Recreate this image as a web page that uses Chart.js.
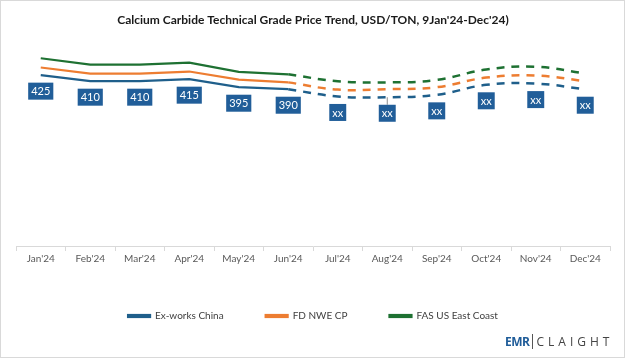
<!DOCTYPE html>
<html>
<head>
<meta charset="utf-8">
<script src="https://cdn.jsdelivr.net/npm/chart.js@4.4.1/dist/chart.umd.min.js"></script>
<style>
  body { margin: 0; background: #fff; }
  #wrap { position: relative; width: 623px; height: 356px; border: 1px solid #d9d9d9; }
  #logo { position: absolute; left: 504px; top: 328px; font-family: "Open Sans", sans-serif; white-space: nowrap; }
  #logo .emr { color: #1f5c99; font-weight: bold; font-size: 12px; letter-spacing: -0.5px; }
  #logo .bar { display: inline-block; width: 1px; height: 15px; background: #555; margin: 0 3px; vertical-align: -3px; }
  #logo .cl { color: #444; font-size: 12px; letter-spacing: 4px; }
</style>
</head>
<body>
<div id="wrap">
  <canvas id="graficoPrecio" width="623" height="356"></canvas>
  <div id="logo"><span class="emr">EMR</span><span class="bar"></span><span class="cl">CLAIGHT</span></div>
</div>
<script>
const meses = ["Jan'24", "Feb'24", "Mar'24", "Apr'24", "May'24", "Jun'24", "Jul'24", "Aug'24", "Sep'24", "Oct'24", "Nov'24", "Dec'24"];
const exWorksChina = [425, 410, 410, 415, 395, 390, 372, 370, 376, 401, 404, 390];
const fdNweCp = [444, 429, 429, 434, 414, 407, 389, 390, 395, 419, 424, 410];
const fasUsEastCoast = [467, 451, 451, 456, 433, 427, 410, 407, 413, 439, 446, 429];
const etiquetas = ["425", "410", "410", "415", "395", "390", "xx", "xx", "xx", "xx", "xx", "xx"];
const ultimoReal = 5; // Jun'24, after this the lines are dashed (forecast)

const azul = "#1f5f8b";
const naranja = "#ed7d31";
const verde = "#1e7132";

// split each series in a solid part and a dashed part
const solido = (arr) => arr.map((v, i) => (i <= ultimoReal ? v : null));
const punteado = (arr) => arr.map((v, i) => (i >= ultimoReal ? v : null));

const serie = (label, data, color, dashed) => ({
  label: label,
  data: dashed ? punteado(data) : solido(data),
  borderColor: color,
  backgroundColor: color,
  borderWidth: dashed ? 2.5 : 2.2,
  borderDash: dashed ? [8, 7] : [],
  tension: dashed ? 0.4 : 0,
  pointRadius: 0,
  fill: false,
});

//cajas con los valores debajo de la linea azul
const etiquetasPlugin = {
  id: "etiquetas",
  afterDatasetsDraw(chart) {
    const ctx = chart.ctx;
    const x = chart.scales.x;
    const y = chart.scales.y;
    ctx.save();
    ctx.font = "11px Lato";
    ctx.textAlign = "center";
    ctx.textBaseline = "middle";
    etiquetas.forEach((txt, i) => {
      const px = x.getPixelForValue(i);
      const py = y.getPixelForValue(exWorksChina[i]);
      const cy = py + 16;
      const w = ctx.measureText(txt).width + 6;
      const h = 17;
      if (i === 7) {
        ctx.strokeStyle = "#8c8c8c";
        ctx.lineWidth = 1;
        ctx.beginPath();
        ctx.moveTo(px, py);
        ctx.lineTo(px, cy - h / 2);
        ctx.stroke();
      }
      ctx.fillStyle = "#215e99";
      ctx.fillRect(px - w / 2, cy - h / 2, w, h);
      ctx.fillStyle = "#ffffff";
      ctx.fillText(txt, px, cy + 0.5);
    });
    ctx.restore();
  },
};

new Chart(document.getElementById("graficoPrecio"), {
  type: "line",
  data: {
    labels: meses,
    datasets: [
      serie("Ex-works China", exWorksChina, azul, false),
      serie("FD NWE CP", fdNweCp, naranja, false),
      serie("FAS US East Coast", fasUsEastCoast, verde, false),
      serie("Ex-works China", exWorksChina, azul, true),
      serie("FD NWE CP", fdNweCp, naranja, true),
      serie("FAS US East Coast", fasUsEastCoast, verde, true),
    ],
  },
  options: {
    responsive: false,
    animation: false,
    layout: { padding: { left: 15, right: 14, top: 0, bottom: 26 } },
    plugins: {
      title: {
        display: true,
        text: "Calcium Carbide Technical Grade Price Trend, USD/TON, 9Jan'24-Dec'24)",
        color: "#1a1a1a",
        font: { family: "Lato", size: 12, weight: "bold" },
        padding: { top: 12, bottom: 17.6 },
      },
      legend: {
        position: "bottom",
        labels: {
          filter: (item) => item.datasetIndex < 3,
          boxWidth: 22,
          boxHeight: 2,
          padding: 42,
          color: "#404040",
          font: { family: "Lato", size: 10 },
        },
      },
      tooltip: { enabled: false },
    },
    scales: {
      x: {
        offset: true,
        afterFit: (scale) => {
          scale.height = 23;
        },
        grid: { offset: true, drawOnChartArea: false, color: "#d9d9d9", tickLength: 5 },
        border: { color: "#d9d9d9" },
        ticks: { color: "#595959", font: { family: "Lato", size: 10 }, padding: 2, maxRotation: 0 },
      },
      y: { display: false, min: 0, max: 500 },
    },
  },
  plugins: [etiquetasPlugin],
});
</script>
</body>
</html>
